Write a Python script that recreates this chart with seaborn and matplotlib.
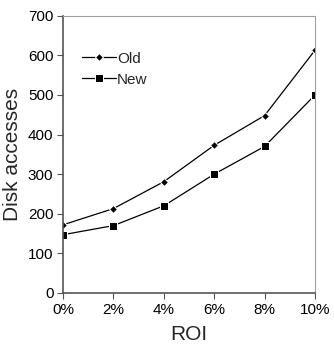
import matplotlib
matplotlib.use("Agg")
import matplotlib.pyplot as plt
import pandas as pd
import seaborn as sns

roi = ["0%", "2%", "4%", "6%", "8%", "10%"]
old = [172, 213, 281, 373, 448, 613]
new = [147, 170, 220, 300, 370, 500]

sns.set_theme(style="white")
plt.rcParams["font.family"] = ["Liberation Sans", "DejaVu Sans"]

df = pd.DataFrame({"ROI": list(range(len(roi))) * 2,
                   "value": old + new,
                   "series": ["Old"] * len(roi) + ["New"] * len(roi)})

fig = plt.figure(figsize=(3.34, 3.52), dpi=100)
ax = fig.add_axes([0.189, 0.168, 0.754, 0.787])
sns.lineplot(data=df, x="ROI", y="value", hue="series", style="series",
             markers={"Old": "D", "New": "s"}, dashes=False,
             palette={"Old": "black", "New": "black"},
             markersize=5, linewidth=0.9, ax=ax)
# diamond slightly smaller than the square
sizes = [4.5, 6]
for line, ms in zip(ax.lines[:2], sizes):
    line.set_markersize(ms)

ax.set_xlim(0, len(roi) - 1)
ax.set_ylim(0, 700)
ax.set_xticks(range(len(roi)))
ax.set_xticklabels(roi)
ax.set_yticks(range(0, 701, 100))
ax.tick_params(axis="both", direction="out", length=4, width=0.8,
               colors="#555555", labelcolor="black", labelsize=11,
               bottom=True, left=True, pad=3)
ax.set_xlabel("ROI", fontsize=15, labelpad=6)
ax.set_ylabel("Disk accesses", fontsize=15, labelpad=4)

for side in ["top", "right"]:
    ax.spines[side].set_color("#a0a0a0")
    ax.spines[side].set_linewidth(0.8)
for side in ["left", "bottom"]:
    ax.spines[side].set_color("#555555")
    ax.spines[side].set_linewidth(1.2)

leg = ax.legend(loc="upper left", bbox_to_anchor=(0.02, 0.92), frameon=False,
                fontsize=11, handlelength=2.2, handletextpad=0.1,
                labelspacing=0.45)
for h, ms in zip(leg.legend_handles, sizes):
    h.set_markersize(ms)

fig.savefig("out.png", dpi=100)
